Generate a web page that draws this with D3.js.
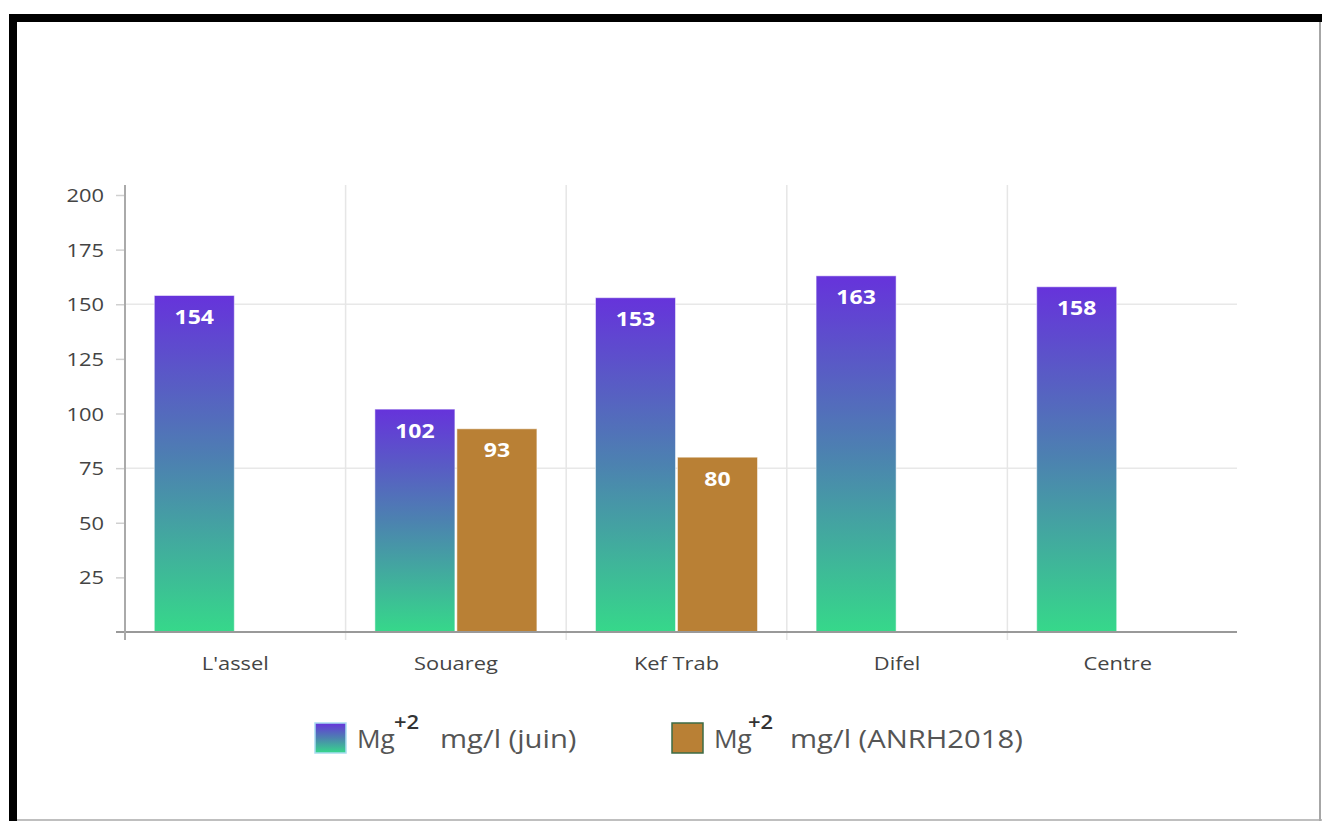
<!DOCTYPE html>
<html>
<head>
<meta charset="utf-8">
<script src="https://cdn.jsdelivr.net/npm/d3@7"></script>
<style>
  html, body { margin: 0; padding: 0; background: #fff; }
  svg { display: block; font-family: "Open Sans", sans-serif; }
</style>
</head>
<body>
<svg id="chart" width="1322" height="821"></svg>
<script>
// Stations and magnesium concentrations (mg/l)
const categories = ["L'assel", "Souareg", "Kef Trab", "Difel", "Centre"];
const seriesNames = ["juin", "ANRH2018"];
const mgJuin = [154, 102, 153, 163, 158];
const mgAnrh = [null, 93, 80, null, null];
const yTicks = [25, 50, 75, 100, 125, 150, 175, 200];
const gridValues = [75, 150];
const legendLabels = ["mg/l (juin)", "mg/l (ANRH2018)"];

const svg = d3.select("#chart");
const WIDE = 1.15; // horizontal stretch applied to all text

// place a text node at (x, y) with a horizontal stretch
function stretchedText(sel, x, y, s) {
  return sel.append("text").attr("transform", `translate(${x},${y}) scale(${s},1)`);
}

// outer frame
svg.append("rect").attr("x", 9).attr("y", 14).attr("width", 1313).attr("height", 8).attr("fill", "#000");
svg.append("rect").attr("x", 9).attr("y", 14).attr("width", 8).attr("height", 807).attr("fill", "#000");
svg.append("line").attr("x1", 1320).attr("x2", 1320).attr("y1", 22).attr("y2", 821)
  .attr("stroke", "#888").attr("stroke-width", 1.5);
svg.append("line").attr("x1", 17).attr("x2", 1322).attr("y1", 820).attr("y2", 820)
  .attr("stroke", "#aaa").attr("stroke-width", 1.5);

// gradient for the June series
const defs = svg.append("defs");
const grad = defs.append("linearGradient").attr("id", "gradJuin")
  .attr("x1", 0).attr("y1", 0).attr("x2", 0).attr("y2", 1);
grad.append("stop").attr("offset", "0%").attr("stop-color", "#6633db");
grad.append("stop").attr("offset", "50%").attr("stop-color", "#4c82b0");
grad.append("stop").attr("offset", "100%").attr("stop-color", "#36d88a");

const plotLeft = 125, plotRight = 1237;
const bandW = 220.6;

const x = d3.scaleBand().domain(categories)
  .range([plotLeft, plotLeft + bandW * categories.length]).padding(0);
const groupW = 162;
const xSub = d3.scaleBand().domain(seriesNames).range([0, groupW]).paddingInner(2 / 82);
const y = d3.scaleLinear().domain([0, 200]).range([632, 195]);

// grid
const g = svg.append("g");
g.selectAll(".hgrid").data(gridValues).join("line")
  .attr("x1", plotLeft).attr("x2", plotRight)
  .attr("y1", d => y(d)).attr("y2", d => y(d))
  .attr("stroke", "#e8e8e8").attr("stroke-width", 1.5);
g.selectAll(".vgrid").data(categories.slice(1)).join("line")
  .attr("x1", d => x(d)).attr("x2", d => x(d))
  .attr("y1", 185).attr("y2", 640)
  .attr("stroke", "#e6e6e6").attr("stroke-width", 1.5);

// y axis: tick marks from d3, labels stretched
const yAxis = svg.append("g").attr("transform", `translate(${plotLeft},0)`)
  .call(d3.axisLeft(y).tickValues(yTicks).tickSize(9).tickFormat(""));
yAxis.select(".domain").remove();
yAxis.selectAll(".tick line").attr("stroke", "#d0d0d0").attr("stroke-width", 1.5);
const yLab = svg.append("g");
yTicks.forEach(t => {
  stretchedText(yLab, 104, y(t) + 7, WIDE)
    .attr("text-anchor", "end").attr("fill", "#444")
    .style("font-size", "19px").text(t);
});

// bars
const rows = categories.map((c, i) => ({ cat: c, vals: [mgJuin[i], mgAnrh[i]] }));
const fills = ["url(#gradJuin)", "#b98035"];
const barG = svg.append("g");
rows.forEach(r => {
  r.vals.forEach((v, si) => {
    if (v == null) return;
    const bx = x(r.cat) + (x.bandwidth() - groupW) / 2 + xSub(seriesNames[si]);
    barG.append("rect")
      .attr("x", bx).attr("y", y(v))
      .attr("width", xSub.bandwidth()).attr("height", y(0) - y(v))
      .attr("fill", fills[si])
      .attr("stroke", "rgba(255,255,255,0.5)").attr("stroke-width", 1);
    stretchedText(barG, bx + xSub.bandwidth() / 2, y(v) + 28.5, WIDE)
      .attr("text-anchor", "middle").attr("fill", "#fff")
      .style("font-weight", "700").style("font-size", "20px")
      .text(v);
  });
});

// axis lines
svg.append("line").attr("x1", 116).attr("x2", plotRight).attr("y1", y(0)).attr("y2", y(0))
  .attr("stroke", "#999").attr("stroke-width", 2);
svg.append("line").attr("x1", plotLeft).attr("x2", plotLeft).attr("y1", 185).attr("y2", 640)
  .attr("stroke", "#aaa").attr("stroke-width", 2);

// category labels
const catG = svg.append("g");
categories.forEach(c => {
  stretchedText(catG, x(c) + x.bandwidth() / 2, 670, WIDE)
    .attr("text-anchor", "middle").attr("fill", "#444")
    .style("font-size", "19px").text(c);
});

// legend
const legend = [
  { sx: 315, mgX: 357, supX: 394, tx: 440, fill: "url(#gradJuin)", stroke: "#a8dcf0", label: legendLabels[0] },
  { sx: 672, mgX: 714, supX: 748, tx: 790, fill: "#b98035", stroke: "#3d6b45", label: legendLabels[1] }
];
const legG = svg.append("g");
legend.forEach(l => {
  legG.append("rect").attr("x", l.sx).attr("y", 723).attr("width", 31).attr("height", 30)
    .attr("fill", l.fill).attr("stroke", l.stroke).attr("stroke-width", 1.5);
  stretchedText(legG, l.mgX, 748, 1.05).attr("fill", "#555").style("font-size", "25px").text("Mg");
  stretchedText(legG, l.supX, 729, 1.1).attr("fill", "#333").style("font-size", "20px")
    .style("font-weight", "600").text("+2");
  stretchedText(legG, l.tx, 748, 1.17).attr("fill", "#555").style("font-size", "25px").text(l.label);
});
</script>
</body>
</html>
